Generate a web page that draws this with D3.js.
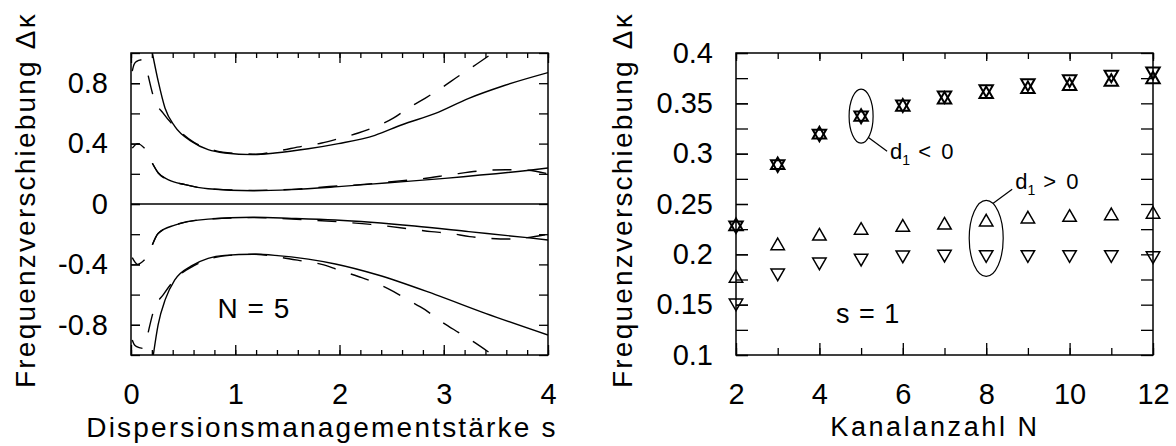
<!DOCTYPE html>
<html>
<head>
<meta charset="utf-8">
<script src="https://cdn.jsdelivr.net/npm/d3@7"></script>
<style>
body { margin: 0; background: #fff; }
text { font-family: "Liberation Sans", Arial, sans-serif; fill: #000; }
</style>
</head>
<body>
<svg id="chart" width="1176" height="446"></svg>
<script>
// ---- left panel: frequency shift vs dispersion management strength s (N = 5)
var sSolidOuterUp = [0.205, 0.262, 0.326, 0.42, 0.58, 0.74, 0.90, 1.17, 1.38, 1.70, 1.99, 2.34, 2.60, 2.92, 3.24, 3.56, 4.0];
var vSolidOuterUp = [1.0, 0.81, 0.636, 0.514, 0.415, 0.36, 0.338, 0.327, 0.338, 0.366, 0.40, 0.455, 0.525, 0.60, 0.70, 0.78, 0.87];
var sSolidOuterDn = [0.214, 0.26, 0.33, 0.42, 0.58, 0.74, 0.90, 1.17, 1.38, 1.70, 1.96, 2.37, 2.92, 3.40, 4.0];
var vSolidOuterDn = [-1.0, -0.80, -0.63, -0.503, -0.41, -0.36, -0.34, -0.333, -0.34, -0.365, -0.397, -0.47, -0.60, -0.724, -0.868];
var sDashOuterUp = [0.165, 0.22, 0.31, 0.44, 0.6, 0.8, 1.0, 1.2, 1.4, 1.64, 1.83, 1.99, 2.18, 2.34, 2.52, 2.66, 2.82, 2.98, 3.14, 3.28, 3.47];
var vDashOuterUp = [0.85, 0.70, 0.60, 0.50, 0.41, 0.355, 0.335, 0.33, 0.35, 0.382, 0.404, 0.432, 0.47, 0.51, 0.57, 0.636, 0.70, 0.77, 0.846, 0.91, 1.0];
var sDashOuterDn = [0.165, 0.22, 0.31, 0.42, 0.6, 0.8, 1.0, 1.2, 1.4, 1.64, 1.83, 1.99, 2.18, 2.34, 2.52, 2.66, 2.82, 2.98, 3.14, 3.28, 3.47];
var vDashOuterDn = [-0.85, -0.70, -0.60, -0.50, -0.41, -0.355, -0.337, -0.333, -0.35, -0.377, -0.40, -0.437, -0.48, -0.52, -0.58, -0.636, -0.70, -0.78, -0.85, -0.91, -1.0];
var sSolidInnerUp = [0.205, 0.262, 0.36, 0.52, 0.74, 1.17, 1.54, 1.99, 2.44, 3.01, 3.80, 4.0];
var vSolidInnerUp = [0.27, 0.205, 0.16, 0.128, 0.101, 0.088, 0.095, 0.115, 0.139, 0.170, 0.222, 0.238];
var sDashInnerUp = [0.205, 0.262, 0.36, 0.52, 0.74, 1.17, 1.54, 1.99, 2.2, 2.5, 2.8, 3.1, 3.4, 3.6, 3.8, 4.0];
var vDashInnerUp = [0.27, 0.205, 0.16, 0.128, 0.101, 0.09, 0.097, 0.12, 0.128, 0.148, 0.168, 0.198, 0.222, 0.227, 0.224, 0.2];
var sSolidInnerDn = [0.205, 0.26, 0.42, 0.74, 1.17, 1.54, 1.96, 2.72, 3.24, 3.80, 4.0];
var vSolidInnerDn = [-0.27, -0.195, -0.14, -0.10, -0.088, -0.095, -0.106, -0.146, -0.183, -0.223, -0.238];
var sDashInnerDn = [0.205, 0.26, 0.42, 0.74, 1.17, 1.54, 1.99, 2.3, 2.71, 2.88, 3.06, 3.25, 3.43, 3.62, 3.80, 4.0];
var vDashInnerDn = [-0.27, -0.195, -0.14, -0.10, -0.09, -0.1, -0.118, -0.135, -0.168, -0.183, -0.194, -0.216, -0.227, -0.232, -0.223, -0.20];
// short pieces near s = 0
var sArcTop = [0.012, 0.03, 0.055, 0.1], vArcTop = [0.88, 0.925, 0.945, 0.955];
var sArcMidUp = [0.012, 0.064, 0.13], vArcMidUp = [0.37, 0.40, 0.37];
var sArcMidDn = [0.012, 0.064, 0.13], vArcMidDn = [-0.355, -0.40, -0.37];
var sArcBot = [0.012, 0.03, 0.055, 0.11], vArcBot = [-0.90, -0.93, -0.945, -0.956];

var sTicks = [0, 1, 2, 3, 4];
var vTicks = [-0.8, -0.4, 0, 0.4, 0.8];
var vTickLabels = ["-0.8", "-0.4", "0", "0.4", "0.8"];

// ---- right panel: frequency shift vs channel count N (s = 1)
var channels = [2, 3, 4, 5, 6, 7, 8, 9, 10, 11, 12];
var negUp = [0.2278, 0.2885, 0.319, 0.3365, 0.3466, 0.3536, 0.3591, 0.364, 0.3672, 0.3712, 0.3737];
var negDown = [0.2288, 0.2895, 0.320, 0.338, 0.349, 0.358, 0.364, 0.370, 0.374, 0.3786, 0.3817];
var posUp = [0.176, 0.2085, 0.218, 0.2238, 0.2269, 0.229, 0.232, 0.235, 0.2367, 0.2383, 0.2398];
var posDown = [0.1517, 0.1815, 0.1924, 0.1962, 0.1994, 0.2001, 0.1998, 0.1998, 0.1998, 0.1998, 0.1986];
var nTicks = [2, 4, 6, 8, 10, 12];
var kTicks = [0.1, 0.15, 0.2, 0.25, 0.3, 0.35, 0.4];
var kTickLabels = ["0.1", "0.15", "0.2", "0.25", "0.3", "0.35", "0.4"];

var svg = d3.select("#chart");

var xS = d3.scaleLinear().domain([0, 4]).range([131, 548]);
var yS = d3.scaleLinear().domain([-1, 1]).range([355, 53]);
var xN = d3.scaleLinear().domain([2, 12]).range([736, 1153]);
var yK = d3.scaleLinear().domain([0.1, 0.4]).range([355, 53]);

function styleAxis(g) {
    g.select(".domain").remove();
    g.selectAll(".tick line").attr("stroke", "#000").attr("stroke-width", 1.3);
    g.selectAll(".tick text").style("font-size", "29px").attr("fill", "#000");
    g.attr("font-family", null).attr("font-size", null);
}

function addAxis(axis, tx, ty) {
    svg.append("g")
        .attr("transform", "translate(" + tx + "," + ty + ")")
        .call(axis)
        .call(styleAxis);
}

var noLabel = function() { return ""; };

// left panel axes
var sMinor = d3.range(0, 21).map(function(i) { return i * 0.2; });
var vMinor = d3.range(-5, 6).map(function(i) { return i * 0.2; });
addAxis(d3.axisBottom(xS).tickValues(sMinor).tickSize(-5).tickFormat(noLabel), 0, 355);
addAxis(d3.axisBottom(xS).tickValues(sTicks).tickSize(-10).tickPadding(28).tickFormat(d3.format("d")), 0, 355);
addAxis(d3.axisTop(xS).tickValues(sMinor).tickSize(-5).tickFormat(noLabel), 0, 53);
addAxis(d3.axisTop(xS).tickValues(sTicks).tickSize(-10).tickFormat(noLabel), 0, 53);
addAxis(d3.axisLeft(yS).tickValues(vMinor).tickSize(-9).tickFormat(noLabel), 131, 0);
addAxis(d3.axisLeft(yS).tickValues(vTicks).tickSize(-9).tickPadding(23)
    .tickFormat(function(d, i) { return vTickLabels[i]; }), 131, 0);
addAxis(d3.axisRight(yS).tickValues(vMinor).tickSize(-9).tickFormat(noLabel), 548, 0);

// right panel axes
var kMinor = d3.range(0, 13).map(function(i) { return 0.1 + i * 0.025; });
addAxis(d3.axisBottom(xN).tickValues(channels).tickSize(-7).tickFormat(noLabel), 0, 355);
addAxis(d3.axisBottom(xN).tickValues(nTicks).tickSize(-12).tickPadding(28).tickFormat(d3.format("d")), 0, 355);
addAxis(d3.axisTop(xN).tickValues(channels).tickSize(-6).tickFormat(noLabel), 0, 53);
addAxis(d3.axisTop(xN).tickValues(nTicks).tickSize(-8).tickFormat(noLabel), 0, 53);
addAxis(d3.axisLeft(yK).tickValues(kMinor).tickSize(-12).tickFormat(noLabel), 736, 0);
addAxis(d3.axisLeft(yK).tickValues(kTicks).tickSize(-12).tickPadding(23)
    .tickFormat(function(d, i) { return kTickLabels[i]; }), 736, 0);
addAxis(d3.axisRight(yK).tickValues(kMinor).tickSize(-12).tickFormat(noLabel), 1153, 0);

// frames
svg.append("rect")
    .attr("x", xS(0)).attr("y", yS(1))
    .attr("width", xS(4) - xS(0)).attr("height", yS(-1) - yS(1))
    .attr("fill", "none").attr("stroke", "#000").attr("stroke-width", 1.5);
svg.append("rect")
    .attr("x", xN(2)).attr("y", yK(0.4))
    .attr("width", xN(12) - xN(2)).attr("height", yK(0.1) - yK(0.4))
    .attr("fill", "none").attr("stroke", "#000").attr("stroke-width", 1.5);

// curves in left panel
svg.append("clipPath").attr("id", "clipL")
    .append("rect")
    .attr("x", xS(0)).attr("y", yS(1))
    .attr("width", xS(4) - xS(0)).attr("height", yS(-1) - yS(1));

var gL = svg.append("g").attr("clip-path", "url(#clipL)");

var line = d3.line()
    .x(function(d) { return xS(d[0]); })
    .y(function(d) { return yS(d[1]); })
    .curve(d3.curveMonotoneX);

function drawCurve(sArr, vArr, dashed) {
    gL.append("path")
        .datum(d3.zip(sArr, vArr))
        .attr("fill", "none")
        .attr("stroke", "#000")
        .attr("stroke-width", 1.4)
        .attr("stroke-dasharray", dashed ? "19,16" : null)
        .attr("d", line);
}

drawCurve(sSolidOuterUp, vSolidOuterUp, false);
drawCurve(sSolidOuterDn, vSolidOuterDn, false);
drawCurve(sSolidInnerUp, vSolidInnerUp, false);
drawCurve(sSolidInnerDn, vSolidInnerDn, false);
drawCurve(sDashOuterUp, vDashOuterUp, true);
drawCurve(sDashOuterDn, vDashOuterDn, true);
drawCurve(sDashInnerUp, vDashInnerUp, true);
drawCurve(sDashInnerDn, vDashInnerDn, true);
drawCurve(sArcTop, vArcTop, false);
drawCurve(sArcMidUp, vArcMidUp, false);
drawCurve(sArcMidDn, vArcMidDn, false);
drawCurve(sArcBot, vArcBot, false);

// zero line
gL.append("line")
    .attr("x1", xS(0)).attr("x2", xS(4))
    .attr("y1", yS(0)).attr("y2", yS(0))
    .attr("stroke", "#000").attr("stroke-width", 1.4);

svg.append("text")
    .attr("x", xS(0.83)).attr("y", yS(-0.755))
    .style("font-size", "28px").style("letter-spacing", "1px")
    .attr("xml:space", "preserve")
    .text("N = 5");

// markers in right panel
var triUp = d3.symbol().type(d3.symbolTriangle).size(78);

function drawMarkers(vals, down, sw) {
    svg.append("g").selectAll("path")
        .data(d3.zip(channels, vals))
        .enter().append("path")
        .attr("d", triUp)
        .attr("transform", function(d) {
            return "translate(" + xN(d[0]) + "," + yK(d[1]) + ")" + (down ? " rotate(180)" : "");
        })
        .attr("fill", "none")
        .attr("stroke", "#000")
        .attr("stroke-width", sw);
}

drawMarkers(posUp, false, 1.5);
drawMarkers(posDown, true, 1.5);
drawMarkers(negUp, false, 2.0);
drawMarkers(negDown, true, 2.0);

// ellipses and labels
var midNeg5 = (negUp[3] + negDown[3]) / 2;
svg.append("ellipse")
    .attr("cx", xN(5)).attr("cy", yK(midNeg5))
    .attr("rx", 12).attr("ry", 27)
    .attr("fill", "none").attr("stroke", "#000").attr("stroke-width", 1.2);
svg.append("line")
    .attr("x1", xN(5) + 7).attr("y1", yK(midNeg5) + 21)
    .attr("x2", xN(5) + 26).attr("y2", yK(midNeg5) + 35)
    .attr("stroke", "#000").attr("stroke-width", 1.2);

var mid8 = (posUp[6] + posDown[6]) / 2;
svg.append("ellipse")
    .attr("cx", xN(8)).attr("cy", yK(mid8))
    .attr("rx", 17).attr("ry", 38)
    .attr("fill", "none").attr("stroke", "#000").attr("stroke-width", 1.2);
svg.append("line")
    .attr("x1", xN(8) + 7).attr("y1", yK(mid8) - 35)
    .attr("x2", xN(8) + 26).attr("y2", yK(mid8) - 49)
    .attr("stroke", "#000").attr("stroke-width", 1.2);

function dLabel(x, y, sign) {
    var t = svg.append("text")
        .attr("x", x).attr("y", y)
        .style("font-size", "22px")
        .attr("xml:space", "preserve");
    t.append("tspan").text("d");
    t.append("tspan").attr("dy", 6).style("font-size", "14px").text("1");
    t.append("tspan").attr("dy", -6).style("letter-spacing", "2px").text(" " + sign + " 0");
}
dLabel(xN(5) + 29, yK(midNeg5) + 43, "<");
dLabel(xN(8) + 29, yK(mid8) - 49, ">");

svg.append("text")
    .attr("x", xN(4.4)).attr("y", yK(0.132))
    .style("font-size", "27px").style("letter-spacing", "1px")
    .attr("xml:space", "preserve")
    .text("s = 1");

// axis titles
svg.append("text")
    .attr("transform", "translate(35,200) rotate(-90)")
    .attr("text-anchor", "middle")
    .style("font-size", "28px").style("letter-spacing", "2.2px")
    .text("Frequenzverschiebung \u0394\u03ba");
svg.append("text")
    .attr("transform", "translate(632,200) rotate(-90)")
    .attr("text-anchor", "middle")
    .style("font-size", "28px").style("letter-spacing", "2.2px")
    .text("Frequenzverschiebung \u0394\u03ba");
svg.append("text")
    .attr("x", 322).attr("y", 437)
    .attr("text-anchor", "middle")
    .style("font-size", "28px").style("letter-spacing", "2.2px")
    .text("Dispersionsmanagementst\u00e4rke s");
svg.append("text")
    .attr("x", 935).attr("y", 436)
    .attr("text-anchor", "middle")
    .style("font-size", "27px").style("letter-spacing", "2.6px")
    .text("Kanalanzahl N");
</script>
</body>
</html>
